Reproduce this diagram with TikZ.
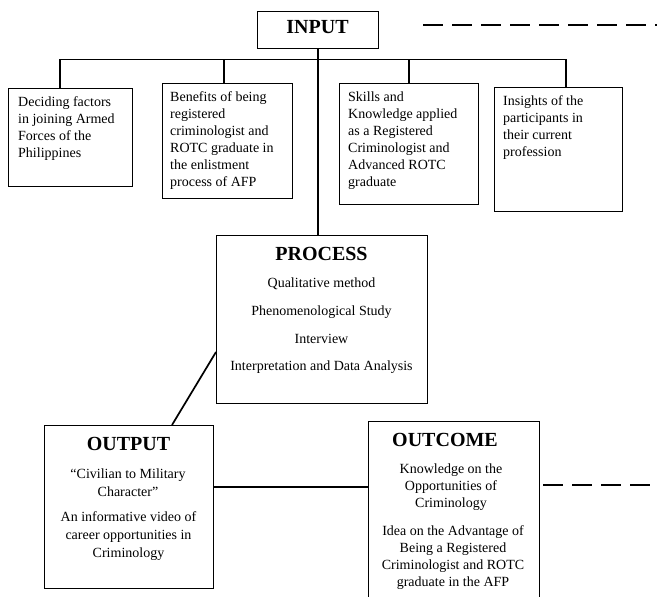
\documentclass[tikz,border=0pt]{standalone}
\usepackage{fontspec}
\setmainfont{Liberation Serif}
\begin{document}
\begin{tikzpicture}[x=1pt,y=-1pt,
  box/.style={draw, line width=1.1pt, inner sep=0pt, anchor=north west},
  conn/.style={line width=1.7pt},
  dashline/.style={line width=2pt, dash pattern=on 20pt off 9pt},
  ttl/.style={font=\fontsize{20}{24}\selectfont\bfseries, inner sep=0pt, anchor=base},
  ltxt/.style={font=\fontsize{14}{17}\selectfont, align=left, inner sep=0pt, anchor=north west},
  ctxt/.style={font=\fontsize{14}{17}\selectfont, align=center, inner sep=0pt, anchor=north},
  cline/.style={font=\fontsize{14}{17}\selectfont, inner sep=0pt, anchor=base}]
\clip (0,0) rectangle (657,597);
\fill[white] (0,0) rectangle (657,597);
% boxes
\node[box, minimum width=121pt, minimum height=37pt] (inp) at (257,11) {};
\node[box, minimum width=124pt, minimum height=98pt] (b1) at (8,88) {};
\node[box, minimum width=130pt, minimum height=115pt] (b2) at (162,83) {};
\node[box, minimum width=139pt, minimum height=121pt] (b3) at (339,83) {};
\node[box, minimum width=128pt, minimum height=124pt] (b4) at (494,87) {};
\node[box, minimum width=211pt, minimum height=168pt] (proc) at (216,235) {};
\node[box, minimum width=169pt, minimum height=163pt] (out) at (44,425) {};
\node[box, minimum width=171pt, minimum height=190pt] (outc) at (368,421) {};
% texts
\node[ttl] (inpT) at (317.5,33.5) {INPUT};
\node[ltxt] (b1T) at (18,94) {\strut Deciding factors\\in joining Armed\\Forces of the\\Philippines};
\node[ltxt] (b2T) at (170,89) {\strut Benefits of being\\registered\\criminologist and\\ROTC graduate in\\the enlistment\\process of AFP};
\node[ltxt] (b3T) at (348,89) {\strut Skills and\\Knowledge applied\\as a Registered\\Criminologist and\\Advanced ROTC\\graduate};
\node[ltxt] (b4T) at (503,93) {\strut Insights of the\\participants in\\their current\\profession};
\node[ttl] (procT) at (321.5,260) {PROCESS};
\node[cline] (p1) at (321.5,287) {Qualitative method};
\node[cline] (p2) at (321.5,315) {Phenomenological Study};
\node[cline] (p3) at (321.5,343) {Interview};
\node[cline] (p4) at (321.5,370) {Interpretation and Data Analysis};
\node[ttl] (outT) at (128.5,450) {OUTPUT};
\node[ctxt, font=\fontsize{14}{18}\selectfont] (o1) at (128,465.4) {\strut ``Civilian to Military\\Character''};
\node[ctxt, font=\fontsize{14}{18}\selectfont] (o2) at (128.5,508.4) {\strut An informative video of\\career opportunities in\\Criminology};
\node[ttl] (outcT) at (445,446) {OUTCOME};
\node[ctxt] (c1) at (451,461) {\strut Knowledge on the\\Opportunities of\\Criminology};
\node[ctxt] (c2) at (453,523) {\strut Idea on the Advantage of\\Being a Registered\\Criminologist and ROTC\\graduate in the AFP};
% connection points
\coordinate (bus) at (0,59.5);
\coordinate (k1) at ([xshift=52pt]b1.north west);
\coordinate (k2) at ([xshift=62pt]b2.north west);
\coordinate (k3) at ([xshift=70pt]b3.north west);
\coordinate (k4) at ([xshift=72pt]b4.north west);
\coordinate (pl) at ([yshift=-117pt]proc.north west);
\coordinate (ot) at ([xshift=128pt]out.north west);
\coordinate (or) at ([yshift=-62pt]out.north east);
% connectors
\draw[conn] (inp.south) -- (inp.south |- proc.north);
\draw[conn] (k1) |- (bus -| k4) -- (k4);
\draw[conn] (k2) -- (k2 |- bus);
\draw[conn] (k3) -- (k3 |- bus);
\draw[conn] (pl) -- (ot);
\draw[conn] (or) -- (or -| outc.west);
% dashed lines
\coordinate (d1a) at (423,25);
\coordinate (d1b) at (657,25);
\coordinate (d2a) at (543,485);
\coordinate (d2b) at (657,485);
\draw[dashline] (d1a) -- (d1b);
\draw[dashline] (d2a) -- (d2b);
\end{tikzpicture}
\end{document}
